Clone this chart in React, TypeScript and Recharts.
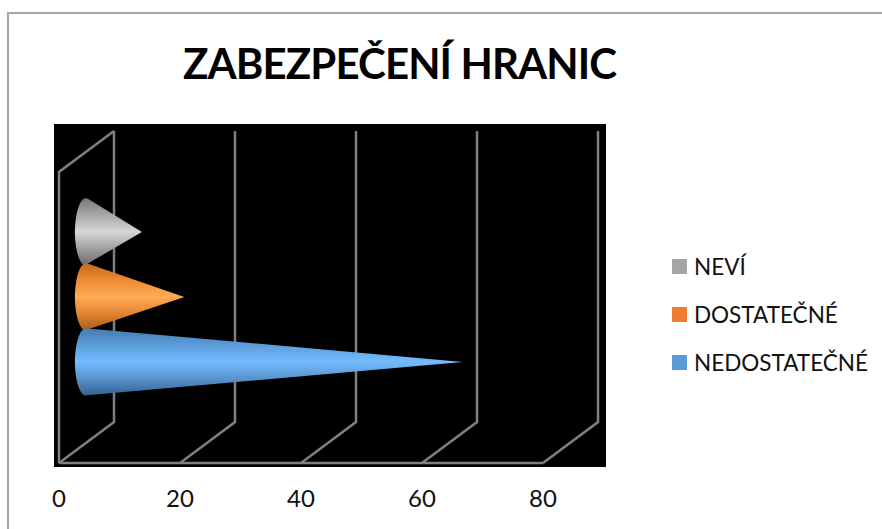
import React from "react";
import { BarChart, Bar, XAxis, YAxis, CartesianGrid, Legend } from "recharts";

const categories = ["ZABEZPEČENÍ HRANIC"];
const seriesNames = ["NEVÍ", "DOSTATEČNÉ", "NEDOSTATEČNÉ"];
const neviValues = [9];
const dostatecneValues = [16];
const nedostatecneValues = [62];
const ticks = [0, 20, 40, 60, 80];

const LEGEND_COLORS = ["#a5a5a5", "#ed7d31", "#5b9bd5"];
const GRADIENTS = [
  ["#787878", "#a8a8a8", "#d6d6d6", "#a0a0a0", "#6a6a6a"],
  ["#c26a22", "#ee8a32", "#ffac55", "#e48430", "#a85a1c"],
  ["#4479b0", "#5c9cda", "#74bcff", "#5893cc", "#33618f"],
];

const FONT = "Lato, sans-serif";
const GRID = "#7f7f7f";
const DEPTH_X = 55;
const DEPTH_Y = 41;

const data = categories.map((name, i) => ({
  name,
  [seriesNames[0]]: neviValues[i],
  [seriesNames[1]]: dostatecneValues[i],
  [seriesNames[2]]: nedostatecneValues[i],
}));

const Cone = (props: any) => {
  const { x, y, width, height, gradientId } = props;
  // cones sit halfway into the fake 3d depth
  const baseX = x + DEPTH_X / 2 + 1;
  const cy = y + height / 2 - DEPTH_Y / 2;
  const r = height / 2 + 1;
  return (
    <path
      d={`M${baseX + width} ${cy} L${baseX} ${cy - r} A11 ${r} 0 0 0 ${baseX - 3} ${cy + r} Z`}
      fill={`url(#${gradientId})`}
    />
  );
};

const WallLine = (props: any) => {
  const { x1, y1, y2, index } = props;
  const top = Math.min(y1, y2);
  const bottom = Math.max(y1, y2);
  const bx = x1 + DEPTH_X;
  return (
    <g key={`wall-${x1}`} fill="none" stroke={GRID} strokeWidth={2.5}>
      <polyline points={`${x1},${bottom} ${bx},${bottom - DEPTH_Y} ${bx},${top - DEPTH_Y}`} />
      {index === 0 && (
        <polyline points={`${x1},${bottom} ${x1},${top} ${bx},${top - DEPTH_Y}`} />
      )}
    </g>
  );
};

const LegendList = () => (
  <div style={{ fontFamily: FONT, fontSize: 22.5, color: "#111" }}>
    {seriesNames.map((name, i) => (
      <div key={name} style={{ display: "flex", alignItems: "center", height: 48 }}>
        <span
          style={{
            width: 15,
            height: 15,
            marginRight: 7,
            background: LEGEND_COLORS[i],
          }}
        />
        {name}
      </div>
    ))}
  </div>
);

export default function App() {
  return (
    <div
      style={{
        position: "absolute",
        left: 0,
        top: 0,
        width: 882,
        height: 529,
        background: "#fff",
        overflow: "hidden",
      }}
    >
      <div
        style={{
          position: "absolute",
          left: 7,
          top: 12,
          right: 0,
          bottom: 0,
          borderTop: "2px solid #a6a6a6",
          borderLeft: "2px solid #a6a6a6",
        }}
      />
      <div
        style={{
          position: "absolute",
          left: 183,
          top: 33,
          width: 433,
          textAlign: "center",
          whiteSpace: "nowrap",
          fontFamily: FONT,
          fontWeight: 700,
          fontSize: 42,
          letterSpacing: -0.9,
          lineHeight: "60px",
          color: "#000",
        }}
      >
        {categories[0]}
      </div>
      <div
        style={{
          position: "absolute",
          left: 54,
          top: 124,
          width: 552,
          height: 343,
          background: "#000",
        }}
      />
      <div style={{ position: "absolute", left: 0, top: 0 }}>
        <BarChart
          width={882}
          height={529}
          data={data}
          layout="vertical"
          barSize={65}
          barGap={0}
          margin={{ top: 172, right: 129, bottom: 36, left: 59 }}
        >
          <defs>
            {GRADIENTS.map((stops, i) => (
              <linearGradient key={i} id={`cone-${i}`} x1="0" y1="0" x2="0" y2="1">
                {stops.map((color, j) => (
                  <stop key={j} offset={`${(j * 100) / (stops.length - 1)}%`} stopColor={color} />
                ))}
              </linearGradient>
            ))}
          </defs>
          <CartesianGrid horizontal={false} vertical={(p: any) => <WallLine {...p} />} />
          <XAxis
            type="number"
            domain={[0, 80]}
            ticks={ticks}
            height={30}
            tickLine={false}
            tickSize={0}
            tickMargin={27}
            axisLine={{ stroke: GRID, strokeWidth: 2.5 }}
            tick={{ fill: "#111", fontSize: 24, fontFamily: FONT }}
          />
          <YAxis type="category" dataKey="name" hide />
          <Legend
            layout="vertical"
            align="right"
            verticalAlign="middle"
            content={<LegendList />}
            wrapperStyle={{ position: "absolute", left: 672, top: 242, width: 210 }}
          />
          {seriesNames.map((name, i) => (
            <Bar
              key={name}
              dataKey={name}
              isAnimationActive={false}
              fill={LEGEND_COLORS[i]}
              shape={(p: any) => <Cone {...p} gradientId={`cone-${i}`} />}
            />
          ))}
        </BarChart>
      </div>
    </div>
  );
}
